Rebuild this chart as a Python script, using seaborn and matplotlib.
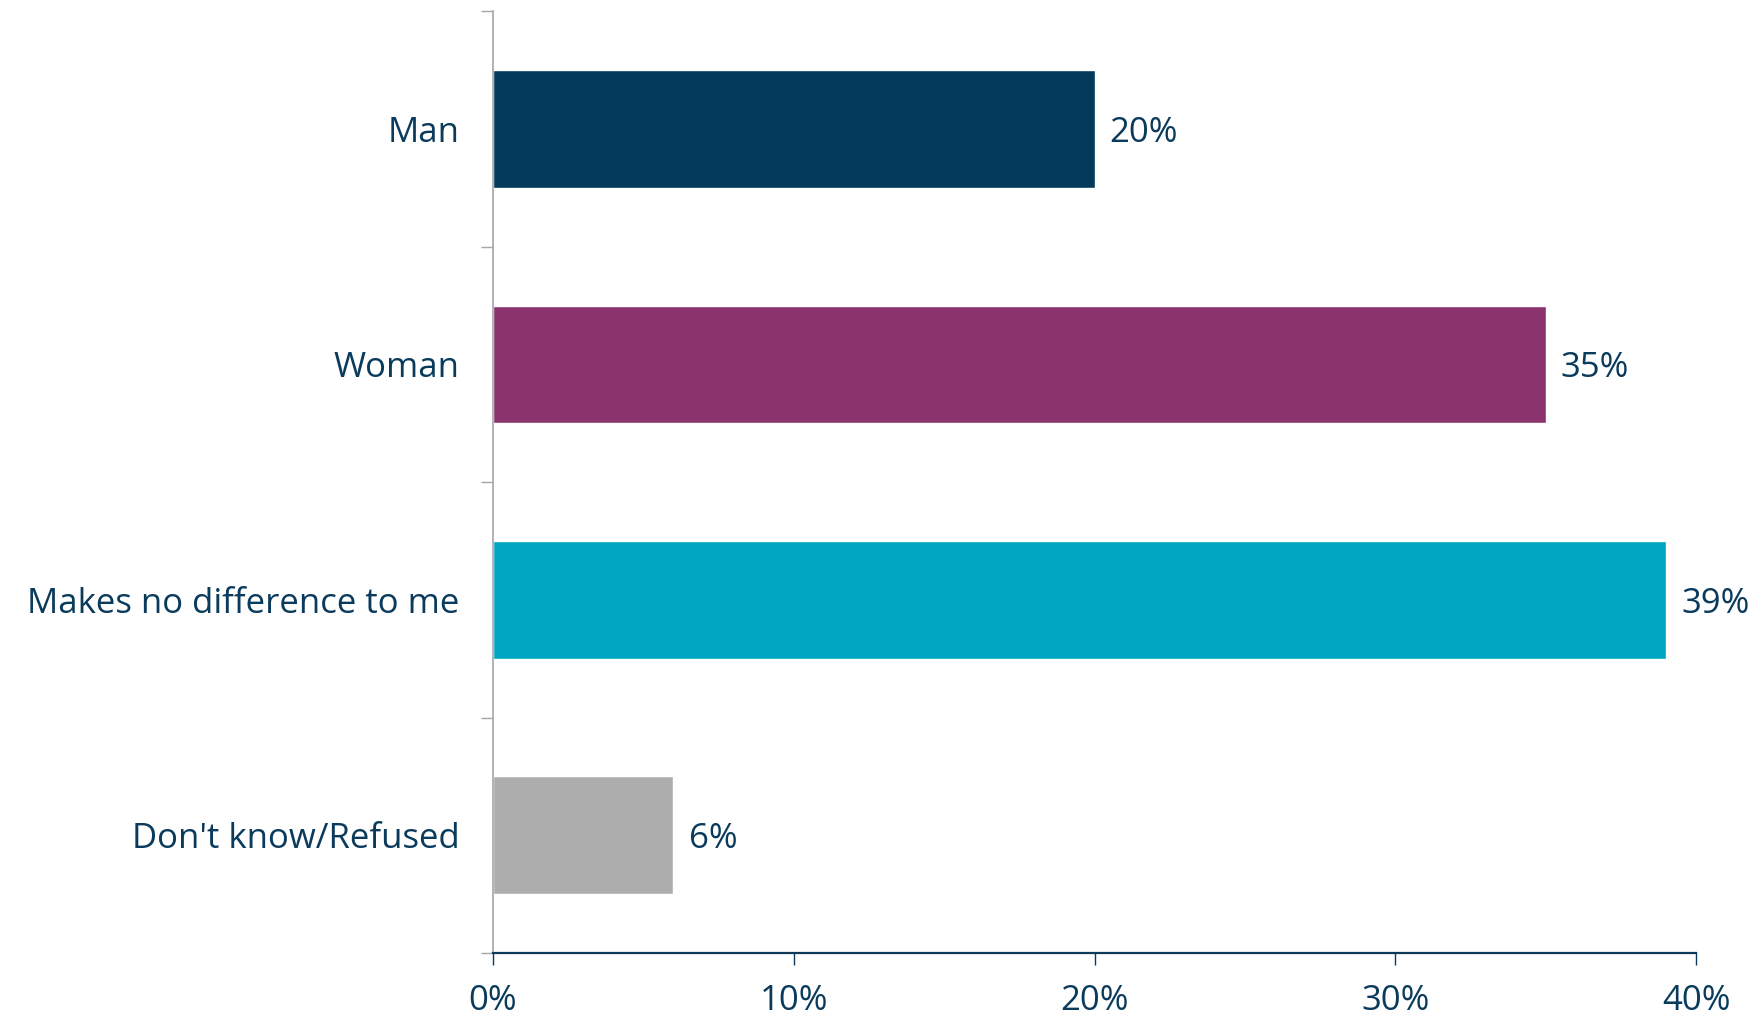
import matplotlib
matplotlib.use("Agg")
import matplotlib.pyplot as plt
import seaborn as sns
import pandas as pd
from matplotlib.ticker import FixedLocator, PercentFormatter

# data
categories = ["Man", "Woman", "Makes no difference to me", "Don't know/Refused"]
values = [20, 35, 39, 6]
bar_colors = ["#033A5A", "#8B336D", "#00A7C2", "#ADADAE"]

text_color = "#0B3B5C"

sns.set_theme(style="white")
plt.rcParams["font.family"] = ["Open Sans", "DejaVu Sans"]

df = pd.DataFrame({"category": categories, "value": values})

fig = plt.figure(figsize=(17.62, 10.17), dpi=100)
ax = fig.add_axes([0.2798, 0.0629, 0.9626 - 0.2798, 0.989 - 0.0629])

sns.barplot(data=df, x="value", y="category", hue="category",
            palette=bar_colors, orient="h", width=0.5, saturation=1,
            legend=False, ax=ax)

ax.set_xlim(0, 40)
ax.set_ylim(3.5, -0.5)
ax.set_xticks([0, 10, 20, 30, 40])
ax.xaxis.set_major_formatter(PercentFormatter(decimals=0))
ax.set_xlabel("")
ax.set_ylabel("")

# value labels
for i, v in enumerate(values):
    ax.text(v + 0.5, i, f"{v}%", va="center_baseline", ha="left",
            fontsize=25, color=text_color)

# spines
for s in ["top", "right"]:
    ax.spines[s].set_visible(False)
ax.spines["left"].set_color("#A6A6A6")
ax.spines["left"].set_linewidth(1.2)
ax.spines["bottom"].set_color("#0E3A5A")
ax.spines["bottom"].set_linewidth(1.6)

# y ticks: labels at categories, tick marks at category boundaries
ax.yaxis.set_minor_locator(FixedLocator([-0.5, 0.5, 1.5, 2.5, 3.5]))
ax.tick_params(axis="y", which="major", length=0, pad=24,
               labelsize=25, labelcolor=text_color)
ax.tick_params(axis="y", which="minor", left=True, length=8.5,
               width=1, color="#A6A6A6", direction="out")
ax.tick_params(axis="x", which="major", bottom=True, length=8.5,
               width=1, color="#0E3A5A", direction="out", pad=14,
               labelsize=25, labelcolor=text_color)

fig.savefig("out.png", dpi=100)
